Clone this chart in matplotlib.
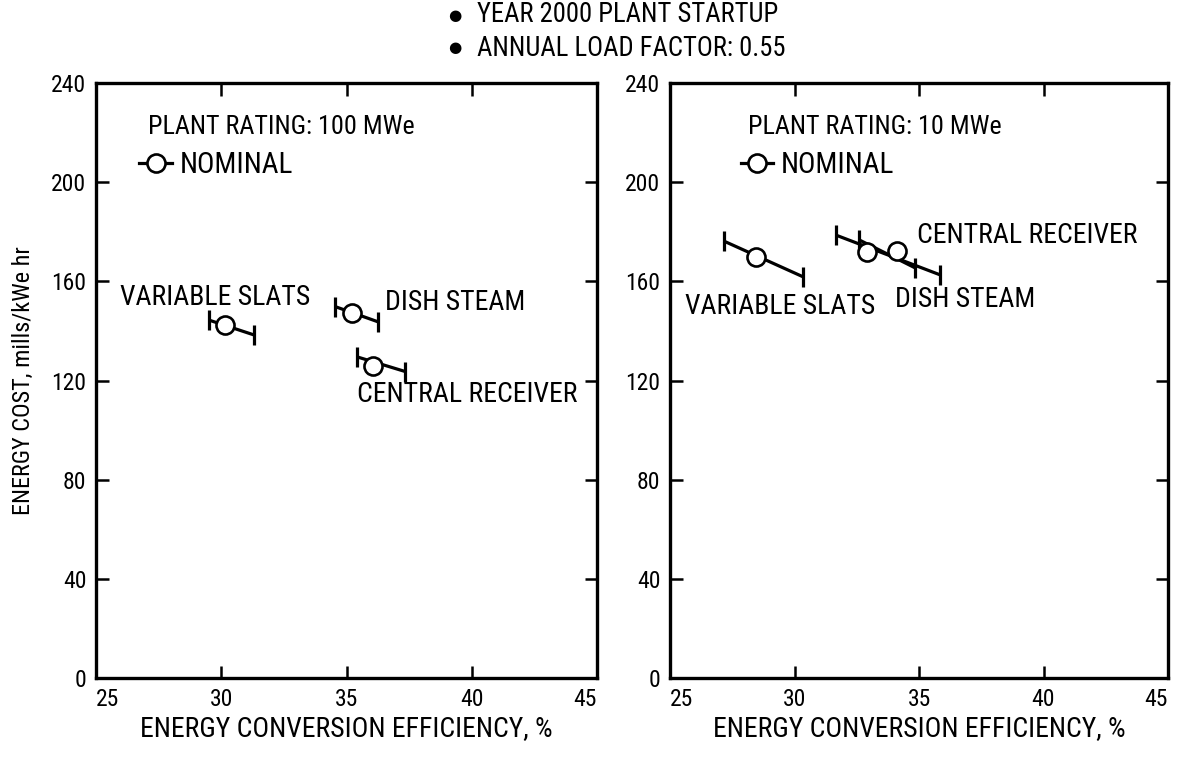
import matplotlib
matplotlib.use("Agg")
import matplotlib.pyplot as plt
from matplotlib import font_manager
from matplotlib.lines import Line2D

# ---------------- data ----------------
categories = ["VARIABLE SLATS", "DISH STEAM", "CENTRAL RECEIVER"]

# Plant rating 100 MWe
eff100_nom = [30.15, 35.2, 36.05]
cost100_nom = [142.4, 147.1, 125.9]
eff100_lo = [29.5, 34.55, 35.4]
cost100_lo = [144.4, 149.8, 129.6]
eff100_hi = [31.3, 36.25, 37.35]
cost100_hi = [138.4, 143.7, 123.6]

# Plant rating 10 MWe
eff10_nom = [28.45, 32.9, 34.1]
cost10_nom = [169.7, 172.0, 172.4]
eff10_lo = [27.15, 32.6, 31.65]
cost10_lo = [176.3, 176.7, 178.7]
eff10_hi = [30.35, 34.85, 35.85]
cost10_hi = [161.8, 165.4, 162.6]

x_ticks = [25, 30, 35, 40, 45]
y_ticks = [0, 40, 80, 120, 160, 200, 240]

# label anchor positions (data coords) for category names
label_pos_100 = [(25.95, 153.3), (36.55, 151.3), (35.4, 114.2)]
label_pos_10 = [(25.6, 149.7), (34.05, 152.5), (34.92, 178.3)]

# ---------------- style ----------------
names = {f.name for f in font_manager.fontManager.ttflist}
base = "Roboto Condensed" if "Roboto Condensed" in names else "DejaVu Sans"
plt.rcParams["font.family"] = [base, "DejaVu Sans"]
FS_CAT = 20
FS_XL = 20
FS_RATING = 18.8
FS_NOM = 21
FS_TOP = 19.2
FS_YL = 17.5
FS_TICK = 17

fig = plt.figure(figsize=(11.8, 7.57), dpi=100)
axL = fig.add_axes([96 / 1180, 79 / 757, 501 / 1180, 595 / 757])
axR = fig.add_axes([670 / 1180, 79 / 757, 498 / 1180, 595 / 757])


def draw(ax, lo_e, lo_c, nom_e, nom_c, hi_e, hi_c, label_pos, rating, rating_x, leg_x):
    for i in range(len(categories)):
        ax.plot([lo_e[i], hi_e[i]], [lo_c[i], hi_c[i]], color="black", lw=2.3,
                marker="|", ms=15, mew=2.3, solid_capstyle="butt", zorder=2)
    ax.plot(nom_e, nom_c, "o", ms=13, mfc="white", mec="black", mew=1.9,
            ls="none", zorder=3)
    for name, (lx, ly) in zip(categories, label_pos):
        ax.text(lx, ly, name, fontsize=FS_CAT, ha="left", va="center")
    ax.set_xlim(x_ticks[0], x_ticks[-1])
    ax.set_ylim(y_ticks[0], y_ticks[-1])
    ax.set_xticks(x_ticks)
    ax.set_yticks(y_ticks)
    ax.tick_params(direction="in", top=True, right=True, length=9, width=1.8,
                   labelsize=FS_TICK, pad=7)
    for lbl, ha in zip(ax.get_xticklabels(), ["left", "center", "center", "center", "right"]):
        lbl.set_ha(ha)
    for s in ax.spines.values():
        s.set_linewidth(2.4)
    ax.set_xlabel("ENERGY CONVERSION EFFICIENCY, %", fontsize=FS_XL, labelpad=3)
    ax.text(rating_x, 0.926, rating, transform=ax.transAxes, fontsize=FS_RATING,
            ha="left", va="center")
    h = Line2D([], [], color="black", lw=2.3, marker="o", ms=13, mfc="white",
               mec="black", mew=1.9)
    ax.legend([h], ["NOMINAL"], loc="center left", bbox_to_anchor=(leg_x, 0.862),
              frameon=False, fontsize=FS_NOM, handlelength=1.13, handletextpad=0.26,
              borderpad=0, borderaxespad=0)


draw(axL, eff100_lo, cost100_lo, eff100_nom, cost100_nom, eff100_hi, cost100_hi,
     label_pos_100, "PLANT RATING: 100 MWe", 0.104, 0.086)
draw(axR, eff10_lo, cost10_lo, eff10_nom, cost10_nom, eff10_hi, cost10_hi,
     label_pos_10, "PLANT RATING: 10 MWe", 0.157, 0.1416)

axL.set_ylabel("ENERGY COST, mills/kWe hr", fontsize=FS_YL, labelpad=12)

for yy, txt in [(15, "YEAR 2000 PLANT STARTUP"), (48, "ANNUAL LOAD FACTOR: 0.55")]:
    fig.text(455 / 1180, 1 - yy / 757, "\u25CF", fontsize=11, ha="center", va="center",
             family=["DejaVu Sans"])
    fig.text(477 / 1180, 1 - yy / 757, txt, fontsize=FS_TOP, ha="left", va="center")

fig.savefig("out.png", dpi=100)
